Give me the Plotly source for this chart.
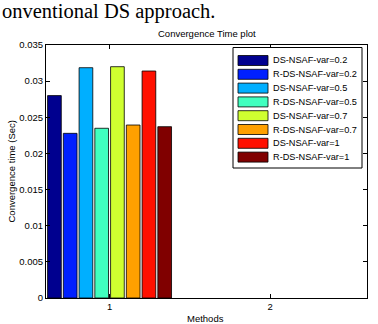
import plotly.graph_objects as go

# ---- data ----
methods = [1, 2]
series_names = ["DS-NSAF-var=0.2", "R-DS-NSAF-var=0.2", "DS-NSAF-var=0.5", "R-DS-NSAF-var=0.5",
                "DS-NSAF-var=0.7", "R-DS-NSAF-var=0.7", "DS-NSAF-var=1", "R-DS-NSAF-var=1"]
method1_times = [0.0280, 0.02278, 0.03186, 0.02348, 0.0320, 0.02393, 0.0314, 0.0237]
method2_times = [None, None, None, None, None, None, None, None]
series_colors = ["#00008f", "#0020ff", "#00afff", "#40ffbf", "#cfff30", "#ffa000", "#ff1000", "#800000"]
y_tickvals = [0, 0.005, 0.01, 0.015, 0.02, 0.025, 0.03, 0.035]
y_ticktext = ["0", "0.005", "0.01", "0.015", "0.02", "0.025", "0.03", "0.035"]
x_tickvals = [1, 2]
x_ticktext = ["1", "2"]

W, H = 378, 324
ML, MR, MT, MB = 46, 11, 45, 26
FONT = "Liberation Sans, Arial, sans-serif"
FS = 9.5
LFS = 9.2

fig = go.Figure()
for name, v1, v2, col in zip(series_names, method1_times, method2_times, series_colors):
    fig.add_trace(go.Bar(x=methods, y=[v1, v2], name=name, marker_color=col,
                         marker_line_color="black", marker_line_width=0.8,
                         showlegend=False))

# manual MATLAB-style legend (pixel -> paper helpers)
pw, ph = W - ML - MR, H - MT - MB
def px(x):
    return (x - ML) / pw
def py(y):
    return (H - MB - y) / ph

shapes = [dict(type="rect", xref="paper", yref="paper",
               x0=px(233), x1=px(362), y0=py(168), y1=py(47.5),
               line=dict(color="black", width=1), fillcolor="white", layer="above")]
annotations = []
row0, row_step = 60.5, 13.8
for i, (name, col) in enumerate(zip(series_names, series_colors)):
    cy = row0 + i * row_step
    shapes.append(dict(type="rect", xref="paper", yref="paper",
                       x0=px(238), x1=px(268), y0=py(cy + 5), y1=py(cy - 5),
                       line=dict(color="black", width=0.8), fillcolor=col, layer="above"))
    annotations.append(dict(xref="paper", yref="paper", x=px(271), y=py(cy),
                            xanchor="left", yanchor="middle", showarrow=False,
                            text=name, font=dict(family=FONT, size=LFS, color="black")))

annotations.append(dict(xref="paper", yref="paper", x=px(207), y=py(33),
                        xanchor="center", yanchor="middle", showarrow=False,
                        text="Convergence Time plot",
                        font=dict(family=FONT, size=FS, color="black")))
annotations.append(dict(xref="paper", yref="paper", x=px(205), y=py(318),
                        xanchor="center", yanchor="middle", showarrow=False,
                        text="Methods",
                        font=dict(family=FONT, size=FS, color="black")))
annotations.append(dict(xref="paper", yref="paper", x=px(11), y=0.5,
                        xanchor="center", yanchor="middle", showarrow=False,
                        textangle=-90, text="Convergence time (Sec)",
                        font=dict(family=FONT, size=FS, color="black")))
annotations.append(dict(xref="paper", yref="paper", x=px(0), y=py(-2),
                        xanchor="left", yanchor="top", showarrow=False,
                        text="onventional DS approach.",
                        font=dict(family="Liberation Serif, Times New Roman, serif", size=20.5, color="black")))

fig.update_layout(
    width=W, height=H,
    margin=dict(l=ML, r=MR, t=MT, b=MB, pad=0),
    paper_bgcolor="white", plot_bgcolor="white",
    barmode="group", bargap=0.215, bargroupgap=0.13,
    font=dict(family=FONT, size=FS, color="black"),
    showlegend=False,
    shapes=shapes, annotations=annotations,
)
fig.update_xaxes(range=[0.604, 2.604], tickvals=x_tickvals, ticktext=x_ticktext,
                 showline=True, linecolor="black", linewidth=1, mirror="ticks",
                 ticks="inside", ticklen=4, tickcolor="black", showgrid=False, zeroline=False,
                 automargin=False, tickfont=dict(size=FS))
fig.update_yaxes(range=[0, 0.035], tickvals=y_tickvals, ticktext=y_ticktext,
                 showline=True, linecolor="black", linewidth=1, mirror="ticks",
                 ticks="inside", ticklen=4, tickcolor="black", showgrid=False, zeroline=False,
                 automargin=False, tickfont=dict(size=FS))

fig.write_html("out.html")
